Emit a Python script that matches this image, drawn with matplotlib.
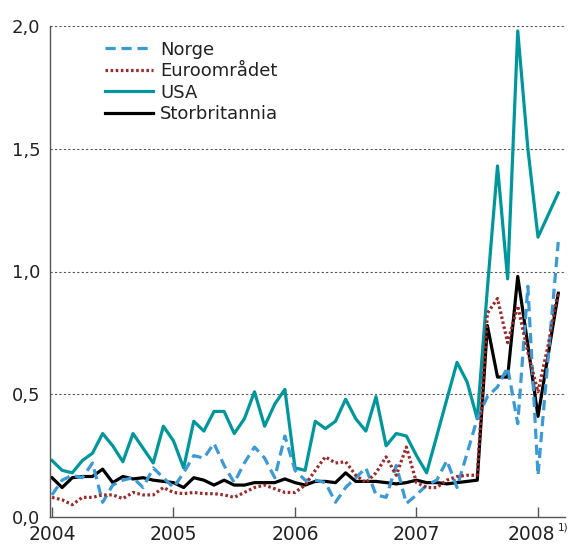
import matplotlib
matplotlib.use("Agg")
import matplotlib.pyplot as plt
import matplotlib.transforms as mtransforms
import numpy as np

plt.rcParams['font.family'] = ['DejaVu Sans']

# Monthly observations, Jan 2004 - Mar 2008
start_year = 2004
norge = [0.09, 0.15, 0.17, 0.16, 0.22, 0.06, 0.13, 0.15, 0.16, 0.12, 0.20, 0.16,
         0.12, 0.18, 0.25, 0.24, 0.30, 0.21, 0.14, 0.22, 0.285, 0.24, 0.16, 0.33,
         0.19, 0.15, 0.15, 0.14, 0.06, 0.12, 0.16, 0.20, 0.09, 0.08, 0.21, 0.055,
         0.09, 0.13, 0.15, 0.23, 0.12, 0.26, 0.40, 0.49, 0.53, 0.61, 0.38, 0.94,
         0.17, 0.65, 1.12]
euro = [0.08, 0.07, 0.05, 0.08, 0.08, 0.09, 0.09, 0.075, 0.10, 0.09, 0.09, 0.12,
        0.10, 0.095, 0.10, 0.095, 0.095, 0.09, 0.08, 0.10, 0.12, 0.13, 0.115, 0.10,
        0.10, 0.13, 0.19, 0.245, 0.22, 0.225, 0.17, 0.14, 0.18, 0.245, 0.17, 0.285,
        0.14, 0.12, 0.12, 0.15, 0.165, 0.17, 0.17, 0.83, 0.89, 0.71, 0.86, 0.67,
        0.51, 0.70, 0.92]
usa = [0.23, 0.19, 0.18, 0.23, 0.26, 0.34, 0.29, 0.225, 0.34, 0.28, 0.22, 0.37,
       0.31, 0.20, 0.39, 0.35, 0.43, 0.43, 0.34, 0.40, 0.51, 0.37, 0.46, 0.52,
       0.20, 0.19, 0.39, 0.36, 0.39, 0.48, 0.40, 0.35, 0.49, 0.29, 0.34, 0.33,
       0.25, 0.18, 0.33, 0.48, 0.63, 0.55, 0.40, 0.93, 1.43, 0.97, 1.98, 1.50,
       1.14, 1.23, 1.32]
uk = [0.16, 0.12, 0.16, 0.165, 0.165, 0.195, 0.14, 0.165, 0.155, 0.16, 0.15, 0.145,
      0.14, 0.12, 0.16, 0.15, 0.13, 0.15, 0.13, 0.13, 0.14, 0.14, 0.14, 0.155,
      0.14, 0.13, 0.145, 0.145, 0.14, 0.18, 0.145, 0.145, 0.145, 0.14, 0.135, 0.14,
      0.15, 0.14, 0.14, 0.135, 0.14, 0.145, 0.15, 0.78, 0.57, 0.57, 0.98, 0.70,
      0.41, 0.66, 0.91]

series_names = ['Norge', 'Euroområdet', 'USA', 'Storbritannia']
x_tick_years = [2004, 2005, 2006, 2007, 2008]
x_tick_labels = ['2004', '2005', '2006', '2007', '2008']
footnote_mark = '1)'
y_ticks = [0.0, 0.5, 1.0, 1.5, 2.0]
y_tick_labels = ['0,0', '0,5', '1,0', '1,5', '2,0']

t = start_year + np.arange(len(usa)) / 12.0

fig = plt.figure(figsize=(5.71, 5.46), dpi=100)
ax = fig.add_axes([50/571, 29/546, 515/571, 491/546])

lw = 2.3
l1, = ax.plot(t, norge, color='#3a9ad6', lw=lw, dashes=(3.2, 1.8), dash_capstyle='butt', label=series_names[0], zorder=3)
l2, = ax.plot(t, euro, color='#9b2a2a', lw=lw, dashes=(0.8, 0.8), dash_capstyle='butt', label=series_names[1], zorder=4)
l3, = ax.plot(t, usa, color='#00979c', lw=lw, label=series_names[2], zorder=2)
l4, = ax.plot(t, uk, color='black', lw=lw, label=series_names[3], zorder=2.5)

ax.set_ylim(0, 2.0)
ax.set_xlim(2004 - 2/121.5, 2004 + 513/121.5)

for y in y_ticks[1:]:
    ax.axhline(y, color='#555555', lw=0.8, dashes=(2, 2), zorder=1)

ax.set_yticks(y_ticks)
ax.set_yticklabels(y_tick_labels, fontsize=13, color='#222222')
ax.tick_params(axis='y', length=0, pad=7)
ax.set_xticks(x_tick_years)
ax.set_xticklabels(x_tick_labels, fontsize=13.5, color='#222222')
ax.tick_params(axis='x', direction='in', length=7, width=1, color='#555555', pad=6)

# shift the last year label slightly left to make room for the footnote mark
last_label = ax.xaxis.get_major_ticks()[-1].label1
last_label.set_transform(last_label.get_transform() +
                         mtransforms.ScaledTranslation(-4.5/72, 0, fig.dpi_scale_trans))

ax.annotate(footnote_mark, xy=(x_tick_years[-1], 0), xycoords=('data', 'axes fraction'),
            xytext=(14.2, -4.0), textcoords='offset points', fontsize=7.5,
            color='#222222', ha='left', va='top', annotation_clip=False)

for s in ['top', 'right']:
    ax.spines[s].set_visible(False)
for s in ['left', 'bottom']:
    ax.spines[s].set_color('#555555')
    ax.spines[s].set_linewidth(1.0)

leg = ax.legend(handles=[l1, l2, l3, l4], loc='upper left', bbox_to_anchor=(0.093, 0.985),
                frameon=False, fontsize=13, handlelength=2.66, handletextpad=0.4,
                labelspacing=0.2, borderaxespad=0)
for txt in leg.get_texts():
    txt.set_color('#222222')

fig.savefig('out.png', dpi=100)
